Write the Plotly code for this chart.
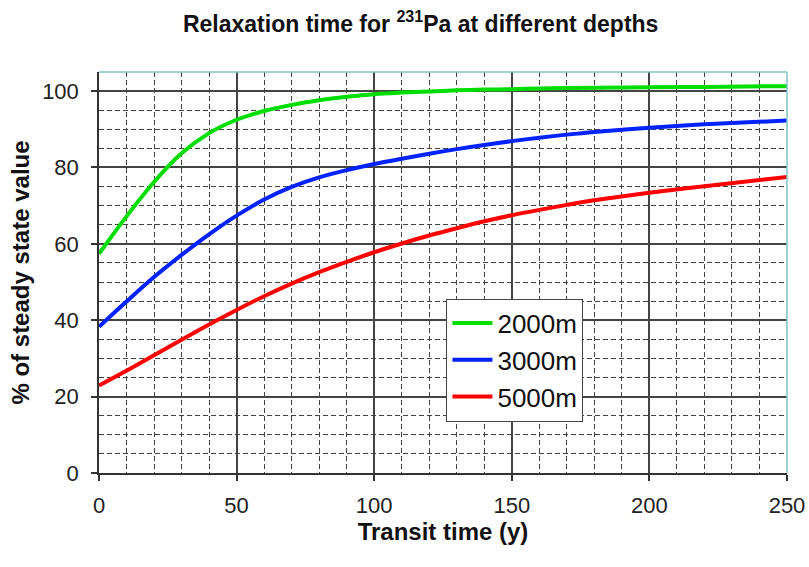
import plotly.graph_objects as go

transit = [0, 10, 20, 30, 40, 50, 60, 70, 80, 90, 100, 110, 120, 130, 140, 150, 160, 170, 180, 200, 220, 250]
d2000 = [57.4, 67.2, 76.2, 83.7, 89.0, 92.5, 94.8, 96.4, 97.6, 98.5, 99.2, 99.6, 99.9, 100.2, 100.4, 100.5, 100.7, 100.8, 100.9, 101.0, 101.1, 101.3]
d3000 = [38.3, 44.9, 51.3, 57.1, 62.5, 67.4, 71.6, 74.9, 77.4, 79.3, 80.9, 82.3, 83.6, 84.8, 85.9, 86.9, 87.8, 88.6, 89.3, 90.4, 91.3, 92.3]
d5000 = [22.9, 26.8, 30.8, 34.9, 38.9, 42.7, 46.3, 49.6, 52.6, 55.3, 57.8, 60.1, 62.2, 64.1, 65.9, 67.5, 68.9, 70.2, 71.4, 73.4, 75.1, 77.5]
series_names = ["2000m", "3000m", "5000m"]
series_colors = ["#00DD00", "#0022FF", "#FF0000"]

FONT = "Liberation Sans, Arial, sans-serif"

fig = go.Figure()
for name, vals, col in zip(series_names, [d2000, d3000, d5000], series_colors):
    fig.add_trace(go.Scatter(x=transit, y=vals, mode="lines", name=name,
                             line=dict(color=col, width=4, shape="spline", smoothing=0.9)))

axis_common = dict(
    showline=True, linecolor="#333333", linewidth=1.5,
    ticks="outside", ticklen=6, tickcolor="#333333", tickwidth=1.5,
    showgrid=True, gridcolor="#444444", gridwidth=1.5,
    tickfont=dict(family=FONT, size=22, color="#222222"),
    zeroline=False, automargin=False, ticklabeloverflow="allow",
)

fig.update_xaxes(range=[0, 250], dtick=50, ticklabelstandoff=6, **axis_common,
                 minor=dict(dtick=10, showgrid=True, gridcolor="#444444", griddash="5px,3px", gridwidth=1.2),
                 title=dict(text="<b>Transit time (y)</b>", font=dict(family=FONT, size=24, color="#111111"), standoff=2))
fig.update_yaxes(range=[0, 105], dtick=20, ticklabelstandoff=8, **axis_common,
                 minor=dict(dtick=5, showgrid=True, gridcolor="#444444", griddash="5px,3px", gridwidth=1.2),
                 title=dict(text="<b>% of steady state value</b>", font=dict(family=FONT, size=24, color="#111111"), standoff=6))

# teal top/right border
fig.add_shape(type="line", xref="paper", yref="paper", x0=0, x1=1, y0=1, y1=1, line=dict(color="#7fc4c4", width=1.5))
fig.add_shape(type="line", xref="paper", yref="paper", x0=1, x1=1, y0=0, y1=1, line=dict(color="#7fc4c4", width=1.5))

fig.update_layout(
    width=809, height=567,
    margin=dict(l=99, r=22, t=72, b=94),
    paper_bgcolor="white", plot_bgcolor="white",
    title=dict(text="<b>Relaxation time for <sup>231</sup>Pa at different depths</b>",
               x=0.52, xanchor="center", y=0.958, yanchor="middle",
               font=dict(family=FONT, size=23, color="#111111")),
    legend=dict(x=0.505, y=0.435, xanchor="left", yanchor="top",
                bgcolor="white", bordercolor="#444444", borderwidth=1,
                font=dict(family=FONT, size=26, color="#111111"),
                itemwidth=40, tracegroupgap=0),
    showlegend=True,
)

fig.write_html("out.html", config={"displayModeBar": False},
               post_script="document.body.style.margin='0';document.body.style.overflow='hidden';")
